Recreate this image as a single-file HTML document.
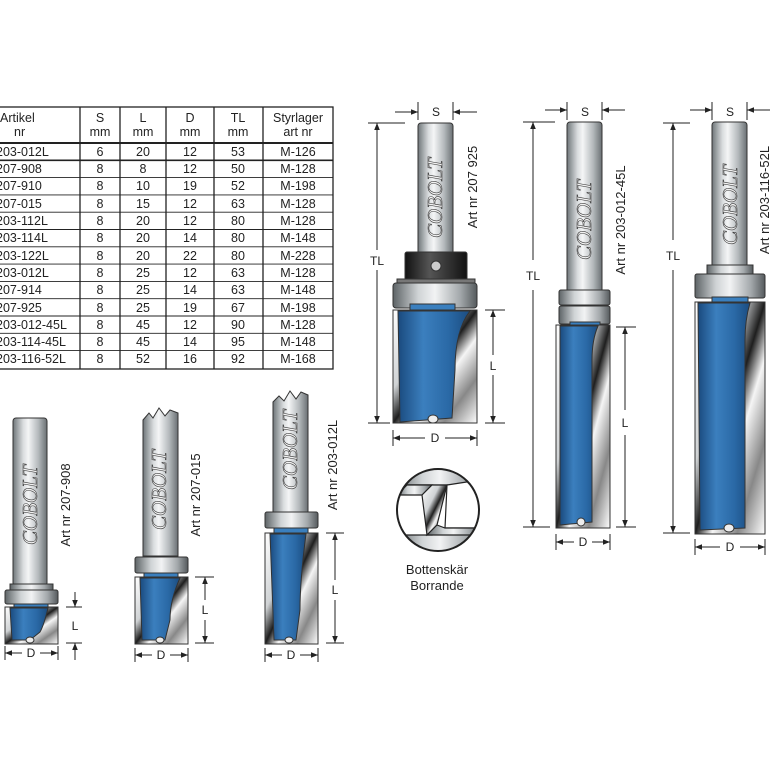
<!DOCTYPE html>
<html><head><meta charset="utf-8"><style>
html,body{margin:0;padding:0;background:#fff;width:770px;height:770px;overflow:hidden}
svg{display:block}
.t{font-family:"Liberation Sans",sans-serif;font-size:12.5px;fill:#222}
.c{text-anchor:middle}
.cob{font-family:"Liberation Serif",serif;font-style:italic;font-size:21px;fill:#f2f2f2;stroke:#3a3a3a;stroke-width:0.6;text-anchor:middle}
.art{font-family:"Liberation Sans",sans-serif;font-size:13px;fill:#222;text-anchor:middle}
.dim{stroke:#222;stroke-width:1;fill:none}
.dl{font-family:"Liberation Sans",sans-serif;font-size:12px;fill:#222;text-anchor:middle}
</style></head><body>
<svg width="770" height="770" viewBox="0 0 770 770" xmlns="http://www.w3.org/2000/svg">
<defs>
<linearGradient id="sh" x1="0" x2="1" y1="0" y2="0">
<stop offset="0" stop-color="#6f7679"/><stop offset="0.3" stop-color="#d9dcde"/><stop offset="0.45" stop-color="#f4f5f6"/><stop offset="0.75" stop-color="#b3b8bb"/><stop offset="1" stop-color="#6a7073"/></linearGradient>
<linearGradient id="col" x1="0" x2="1" y1="0" y2="0">
<stop offset="0" stop-color="#5d6366"/><stop offset="0.3" stop-color="#cfd3d5"/><stop offset="0.5" stop-color="#f2f3f4"/><stop offset="0.8" stop-color="#a3a8ab"/><stop offset="1" stop-color="#555a5d"/></linearGradient>
<linearGradient id="bl" x1="0" x2="1" y1="0" y2="0">
<stop offset="0" stop-color="#1a4a7e"/><stop offset="0.35" stop-color="#3b7fbe"/><stop offset="0.7" stop-color="#2a69a6"/><stop offset="1" stop-color="#1b4c80"/></linearGradient>
<linearGradient id="cr" x1="0" x2="1" y1="0" y2="1">
<stop offset="0" stop-color="#fff"/><stop offset="0.35" stop-color="#cfd2d4"/><stop offset="0.5" stop-color="#1e1e1e"/><stop offset="0.62" stop-color="#f5f5f5"/><stop offset="0.8" stop-color="#888"/><stop offset="1" stop-color="#fff"/></linearGradient>
<linearGradient id="blk" x1="0" x2="1"><stop offset="0" stop-color="#111"/><stop offset="0.4" stop-color="#555"/><stop offset="1" stop-color="#111"/></linearGradient>
<marker id="ar" viewBox="0 0 10 10" refX="10" refY="5" markerWidth="7" markerHeight="7" orient="auto-start-reverse"><path d="M0,1 L10,5 L0,9 z" fill="#222"/></marker>
</defs>

<!-- TABLE -->
<g stroke="#222" stroke-width="1.3" fill="none">
<rect x="-5" y="107" width="338" height="262"/>
<line x1="-5" y1="143" x2="333" y2="143" stroke-width="2"/>
<line x1="80" y1="107" x2="80" y2="369"/><line x1="120" y1="107" x2="120" y2="369"/>
<line x1="166" y1="107" x2="166" y2="369"/><line x1="214" y1="107" x2="214" y2="369"/>
<line x1="263" y1="107" x2="263" y2="369"/>
<g stroke-width="0.9">
<line x1="-5" y1="160.3" x2="333" y2="160.3" stroke-width="1.6"/><line x1="-5" y1="177.6" x2="333" y2="177.6"/><line x1="-5" y1="194.9" x2="333" y2="194.9"/><line x1="-5" y1="212.2" x2="333" y2="212.2"/><line x1="-5" y1="229.5" x2="333" y2="229.5"/><line x1="-5" y1="246.8" x2="333" y2="246.8"/><line x1="-5" y1="264.1" x2="333" y2="264.1"/><line x1="-5" y1="281.4" x2="333" y2="281.4"/><line x1="-5" y1="298.7" x2="333" y2="298.7"/><line x1="-5" y1="316" x2="333" y2="316"/><line x1="-5" y1="333.3" x2="333" y2="333.3"/><line x1="-5" y1="350.6" x2="333" y2="350.6"/>
</g></g>
<g class="t">
<text x="0" y="122">Artikel</text><text x="14" y="136">nr</text>
<text class="c" x="100" y="122">S</text><text class="c" x="100" y="136">mm</text>
<text class="c" x="143" y="122">L</text><text class="c" x="143" y="136">mm</text>
<text class="c" x="190" y="122">D</text><text class="c" x="190" y="136">mm</text>
<text class="c" x="238" y="122">TL</text><text class="c" x="238" y="136">mm</text>
<text class="c" x="298" y="122">Styrlager</text><text class="c" x="298" y="136">art nr</text>
</g>
<g class="t">
<text x="-4" y="156">203-012L</text><text x="-4" y="173">207-908</text><text x="-4" y="190">207-910</text><text x="-4" y="208">207-015</text><text x="-4" y="225">203-112L</text><text x="-4" y="242">203-114L</text><text x="-4" y="260">203-122L</text><text x="-4" y="277">203-012L</text><text x="-4" y="294">207-914</text><text x="-4" y="312">207-925</text><text x="-4" y="329">203-012-45L</text><text x="-4" y="346">203-114-45L</text><text x="-4" y="363">203-116-52L</text>
</g>
<g class="t c">
<text x="100" y="156">6</text><text x="100" y="173">8</text><text x="100" y="190">8</text><text x="100" y="208">8</text><text x="100" y="225">8</text><text x="100" y="242">8</text><text x="100" y="260">8</text><text x="100" y="277">8</text><text x="100" y="294">8</text><text x="100" y="312">8</text><text x="100" y="329">8</text><text x="100" y="346">8</text><text x="100" y="363">8</text>
<text x="143" y="156">20</text><text x="143" y="173">8</text><text x="143" y="190">10</text><text x="143" y="208">15</text><text x="143" y="225">20</text><text x="143" y="242">20</text><text x="143" y="260">20</text><text x="143" y="277">25</text><text x="143" y="294">25</text><text x="143" y="312">25</text><text x="143" y="329">45</text><text x="143" y="346">45</text><text x="143" y="363">52</text>
<text x="190" y="156">12</text><text x="190" y="173">12</text><text x="190" y="190">19</text><text x="190" y="208">12</text><text x="190" y="225">12</text><text x="190" y="242">14</text><text x="190" y="260">22</text><text x="190" y="277">12</text><text x="190" y="294">14</text><text x="190" y="312">19</text><text x="190" y="329">12</text><text x="190" y="346">14</text><text x="190" y="363">16</text>
<text x="238" y="156">53</text><text x="238" y="173">50</text><text x="238" y="190">52</text><text x="238" y="208">63</text><text x="238" y="225">80</text><text x="238" y="242">80</text><text x="238" y="260">80</text><text x="238" y="277">63</text><text x="238" y="294">63</text><text x="238" y="312">67</text><text x="238" y="329">90</text><text x="238" y="346">95</text><text x="238" y="363">92</text>
<text x="298" y="156">M-126</text><text x="298" y="173">M-128</text><text x="298" y="190">M-198</text><text x="298" y="208">M-128</text><text x="298" y="225">M-128</text><text x="298" y="242">M-148</text><text x="298" y="260">M-228</text><text x="298" y="277">M-128</text><text x="298" y="294">M-148</text><text x="298" y="312">M-198</text><text x="298" y="329">M-128</text><text x="298" y="346">M-148</text><text x="298" y="363">M-168</text>
</g>

<!-- BIT A 207-908 -->
<g stroke="#333" stroke-width="1">
<rect x="13" y="418" width="34" height="168" rx="3" fill="url(#sh)"/>
<rect x="10" y="584" width="43" height="6" fill="url(#col)"/>
<rect x="5" y="590" width="53" height="14" rx="2" fill="url(#col)"/>
<rect x="14" y="604" width="34" height="4" fill="#3a7fbe"/>
<rect x="5" y="607" width="53" height="37" fill="url(#cr)"/>
<path d="M10,608 L48,608 Q44,625 40,632 L30,640 L12,640 Z" fill="url(#bl)"/>
<ellipse cx="30" cy="640" rx="4" ry="3" fill="#eee"/>
</g>
<text class="cob" transform="translate(37,505) rotate(-90)">COBOLT</text>
<text class="art" transform="translate(70,505) rotate(-90)">Art nr 207-908</text>
<g class="dim"><line x1="5" y1="646" x2="5" y2="660"/><line x1="58" y1="646" x2="58" y2="660"/>
<line x1="5" y1="653" x2="22" y2="653" marker-start="url(#ar)"/><line x1="40" y1="653" x2="58" y2="653" marker-end="url(#ar)"/>
<line x1="66" y1="607" x2="82" y2="607"/><line x1="66" y1="643" x2="82" y2="643"/>
<line x1="75" y1="592" x2="75" y2="607" marker-end="url(#ar)"/><line x1="75" y1="660" x2="75" y2="643" marker-end="url(#ar)"/></g>
<text class="dl" x="31" y="657">D</text><text class="dl" x="75" y="630">L</text>

<!-- BIT B 207-015 -->
<g stroke="#333" stroke-width="1">
<path d="M143,420 L149,413 L153,418 L159,408 L165,416 L170,410 L178,413 L178,556 L143,556 Z" fill="url(#sh)"/>
<rect x="135" y="557" width="53" height="16" rx="2" fill="url(#col)"/>
<rect x="144" y="573" width="34" height="5" fill="#3a7fbe"/>
<rect x="135" y="577" width="53" height="67" fill="url(#cr)"/>
<path d="M140,578 L180,578 Q170,600 170,620 L165,640 L142,640 Z" fill="url(#bl)"/>
<ellipse cx="160" cy="640" rx="4" ry="3" fill="#eee"/>
</g>
<text class="cob" transform="translate(166,490) rotate(-90)">COBOLT</text>
<text class="art" transform="translate(200,495) rotate(-90)">Art nr 207-015</text>
<g class="dim"><line x1="135" y1="648" x2="135" y2="662"/><line x1="188" y1="648" x2="188" y2="662"/>
<line x1="135" y1="655" x2="152" y2="655" marker-start="url(#ar)"/><line x1="170" y1="655" x2="188" y2="655" marker-end="url(#ar)"/>
<line x1="195" y1="577" x2="214" y2="577"/><line x1="195" y1="643" x2="214" y2="643"/>
<line x1="205" y1="600" x2="205" y2="577" marker-end="url(#ar)"/><line x1="205" y1="620" x2="205" y2="643" marker-end="url(#ar)"/></g>
<text class="dl" x="161" y="659">D</text><text class="dl" x="205" y="614">L</text>

<!-- BIT C 203-012L -->
<g stroke="#333" stroke-width="1">
<path d="M273,402 L279,396 L284,401 L290,391 L296,399 L301,392 L308,395 L308,512 L273,512 Z" fill="url(#sh)"/>
<rect x="265" y="512" width="53" height="16" rx="2" fill="url(#col)"/>
<rect x="274" y="528" width="34" height="5" fill="#3a7fbe"/>
<rect x="265" y="533" width="53" height="111" fill="url(#cr)"/>
<path d="M270,534 L306,534 Q300,580 300,610 L296,640 L274,640 Z" fill="url(#bl)"/>
<ellipse cx="289" cy="640" rx="4" ry="3" fill="#eee"/>
</g>
<text class="cob" transform="translate(297,450) rotate(-90)">COBOLT</text>
<text class="art" transform="translate(337,465) rotate(-90)">Art nr 203-012L</text>
<g class="dim"><line x1="265" y1="648" x2="265" y2="662"/><line x1="318" y1="648" x2="318" y2="662"/>
<line x1="265" y1="655" x2="282" y2="655" marker-start="url(#ar)"/><line x1="300" y1="655" x2="318" y2="655" marker-end="url(#ar)"/>
<line x1="326" y1="533" x2="344" y2="533"/><line x1="326" y1="643" x2="344" y2="643"/>
<line x1="335" y1="580" x2="335" y2="533" marker-end="url(#ar)"/><line x1="335" y1="600" x2="335" y2="643" marker-end="url(#ar)"/></g>
<text class="dl" x="291" y="659">D</text><text class="dl" x="335" y="594">L</text>

<!-- BIT D 207-925 -->
<g stroke="#333" stroke-width="1">
<rect x="418" y="123" width="35" height="135" rx="3" fill="url(#sh)"/>
<rect x="405" y="252" width="62" height="28" rx="2" fill="url(#blk)"/>
<circle cx="436" cy="266" r="5" fill="#ccc"/>
<rect x="397" y="279" width="78" height="5" fill="#777"/>
<rect x="393" y="283" width="84" height="25" rx="3" fill="url(#col)"/>
<rect x="410" y="304" width="45" height="7" fill="#3a7fbe"/>
<rect x="393" y="310" width="84" height="113" fill="url(#cr)"/>
<path d="M398,311 L470,311 Q455,330 455,370 L452,418 L400,422 Z" fill="url(#bl)"/>
<ellipse cx="433" cy="419" rx="5" ry="4" fill="#eee"/>
</g>
<text class="cob" transform="translate(442,198) rotate(-90)">COBOLT</text>
<text class="art" transform="translate(477,187) rotate(-90)">Art nr 207 925</text>
<g class="dim">
<line x1="418" y1="102" x2="418" y2="120"/><line x1="453" y1="102" x2="453" y2="120"/>
<line x1="395" y1="112" x2="418" y2="112" marker-end="url(#ar)"/><line x1="477" y1="112" x2="453" y2="112" marker-end="url(#ar)"/>
<line x1="368" y1="123" x2="405" y2="123"/><line x1="368" y1="423" x2="390" y2="423"/>
<line x1="377" y1="250" x2="377" y2="123" marker-end="url(#ar)"/><line x1="377" y1="270" x2="377" y2="423" marker-end="url(#ar)"/>
<line x1="485" y1="310" x2="505" y2="310"/><line x1="485" y1="423" x2="505" y2="423"/>
<line x1="493" y1="355" x2="493" y2="310" marker-end="url(#ar)"/><line x1="493" y1="375" x2="493" y2="423" marker-end="url(#ar)"/>
<line x1="393" y1="430" x2="393" y2="446"/><line x1="477" y1="430" x2="477" y2="446"/>
<line x1="393" y1="438" x2="425" y2="438" marker-start="url(#ar)"/><line x1="445" y1="438" x2="477" y2="438" marker-end="url(#ar)"/></g>
<text class="dl" x="436" y="116">S</text><text class="dl" x="377" y="265">TL</text><text class="dl" x="493" y="370">L</text><text class="dl" x="435" y="442">D</text>

<!-- Bottenskär -->
<g stroke="#222" stroke-width="1.2">
<clipPath id="cc"><circle cx="438" cy="510" r="41"/></clipPath>
<circle cx="438" cy="510" r="41" fill="#fff"/>
<g clip-path="url(#cc)">
<rect x="395" y="465" width="90" height="20" fill="url(#col)"/>
<rect x="395" y="533" width="90" height="20" fill="url(#col)"/>
<path d="M397,495 L407,485 L432,485 L432,535 L397,535 Z" fill="#fff"/>
<path d="M397,495 L407,485 L432,485 L422,495 Z" fill="url(#col)"/>
<path d="M422,495 L432,485 L447,485 L437,525 L427,535 Z" fill="url(#cr)"/>
<path d="M447,485 L480,480 L480,528 L445,528 Z" fill="#fff"/>
<path d="M437,525 L445,528 L480,528 L470,535 L427,535 Z" fill="url(#col)"/>
</g>
<circle cx="438" cy="510" r="41" fill="none" stroke-width="2"/>
</g>
<text class="dl" x="437" y="574" style="font-size:13px">Bottenskär</text>
<text class="dl" x="437" y="590" style="font-size:13px">Borrande</text>

<!-- BIT E 203-012-45L -->
<g stroke="#333" stroke-width="1">
<rect x="567" y="122" width="35" height="172" rx="3" fill="url(#sh)"/>
<rect x="559" y="290" width="51" height="15" rx="2" fill="url(#col)"/>
<rect x="559" y="306" width="51" height="18" rx="2" fill="url(#col)"/>
<rect x="570" y="322" width="30" height="5" fill="#3a7fbe"/>
<rect x="556" y="325" width="54" height="203" fill="url(#cr)"/>
<path d="M560,326 L598,326 Q592,340 592,360 L592,522 L560,525 Z" fill="url(#bl)"/>
<ellipse cx="581" cy="522" rx="4" ry="4" fill="#eee"/>
</g>
<text class="cob" transform="translate(591,220) rotate(-90)">COBOLT</text>
<text class="art" transform="translate(625,220) rotate(-90)">Art nr 203-012-45L</text>
<g class="dim">
<line x1="567" y1="102" x2="567" y2="120"/><line x1="602" y1="102" x2="602" y2="120"/>
<line x1="545" y1="110" x2="567" y2="110" marker-end="url(#ar)"/><line x1="625" y1="110" x2="602" y2="110" marker-end="url(#ar)"/>
<line x1="523" y1="122" x2="555" y2="122"/><line x1="523" y1="527" x2="550" y2="527"/>
<line x1="533" y1="260" x2="533" y2="122" marker-end="url(#ar)"/><line x1="533" y1="290" x2="533" y2="527" marker-end="url(#ar)"/>
<line x1="616" y1="327" x2="636" y2="327"/><line x1="616" y1="527" x2="636" y2="527"/>
<line x1="625" y1="410" x2="625" y2="327" marker-end="url(#ar)"/><line x1="625" y1="435" x2="625" y2="527" marker-end="url(#ar)"/>
<line x1="556" y1="534" x2="556" y2="550"/><line x1="610" y1="534" x2="610" y2="550"/>
<line x1="556" y1="542" x2="574" y2="542" marker-start="url(#ar)"/><line x1="592" y1="542" x2="610" y2="542" marker-end="url(#ar)"/></g>
<text class="dl" x="585" y="116">S</text><text class="dl" x="533" y="280">TL</text><text class="dl" x="625" y="427">L</text><text class="dl" x="583" y="546">D</text>

<!-- BIT F 203-116-52L -->
<g stroke="#333" stroke-width="1">
<rect x="712" y="122" width="35" height="155" rx="3" fill="url(#sh)"/>
<rect x="707" y="265" width="46" height="10" fill="url(#col)"/>
<rect x="695" y="274" width="70" height="24" rx="2" fill="url(#col)"/>
<rect x="712" y="297" width="36" height="6" fill="#3a7fbe"/>
<rect x="695" y="302" width="70" height="232" fill="url(#cr)"/>
<path d="M698,303 L750,303 Q745,320 745,340 L745,528 L700,530 Z" fill="url(#bl)"/>
<ellipse cx="729" cy="528" rx="5" ry="4" fill="#eee"/>
</g>
<text class="cob" transform="translate(737,205) rotate(-90)">COBOLT</text>
<text class="art" transform="translate(769,200) rotate(-90)">Art nr 203-116-52L</text>
<g class="dim">
<line x1="712" y1="102" x2="712" y2="120"/><line x1="747" y1="102" x2="747" y2="120"/>
<line x1="690" y1="110" x2="712" y2="110" marker-end="url(#ar)"/><line x1="770" y1="110" x2="747" y2="110" marker-end="url(#ar)"/>
<line x1="663" y1="123" x2="690" y2="123"/><line x1="663" y1="533" x2="690" y2="533"/>
<line x1="673" y1="240" x2="673" y2="123" marker-end="url(#ar)"/><line x1="673" y1="270" x2="673" y2="533" marker-end="url(#ar)"/>
<line x1="695" y1="539" x2="695" y2="555"/><line x1="765" y1="539" x2="765" y2="555"/>
<line x1="695" y1="547" x2="720" y2="547" marker-start="url(#ar)"/><line x1="740" y1="547" x2="765" y2="547" marker-end="url(#ar)"/></g>
<text class="dl" x="730" y="116">S</text><text class="dl" x="673" y="260">TL</text><text class="dl" x="730" y="551">D</text>
</svg>
</body></html>
